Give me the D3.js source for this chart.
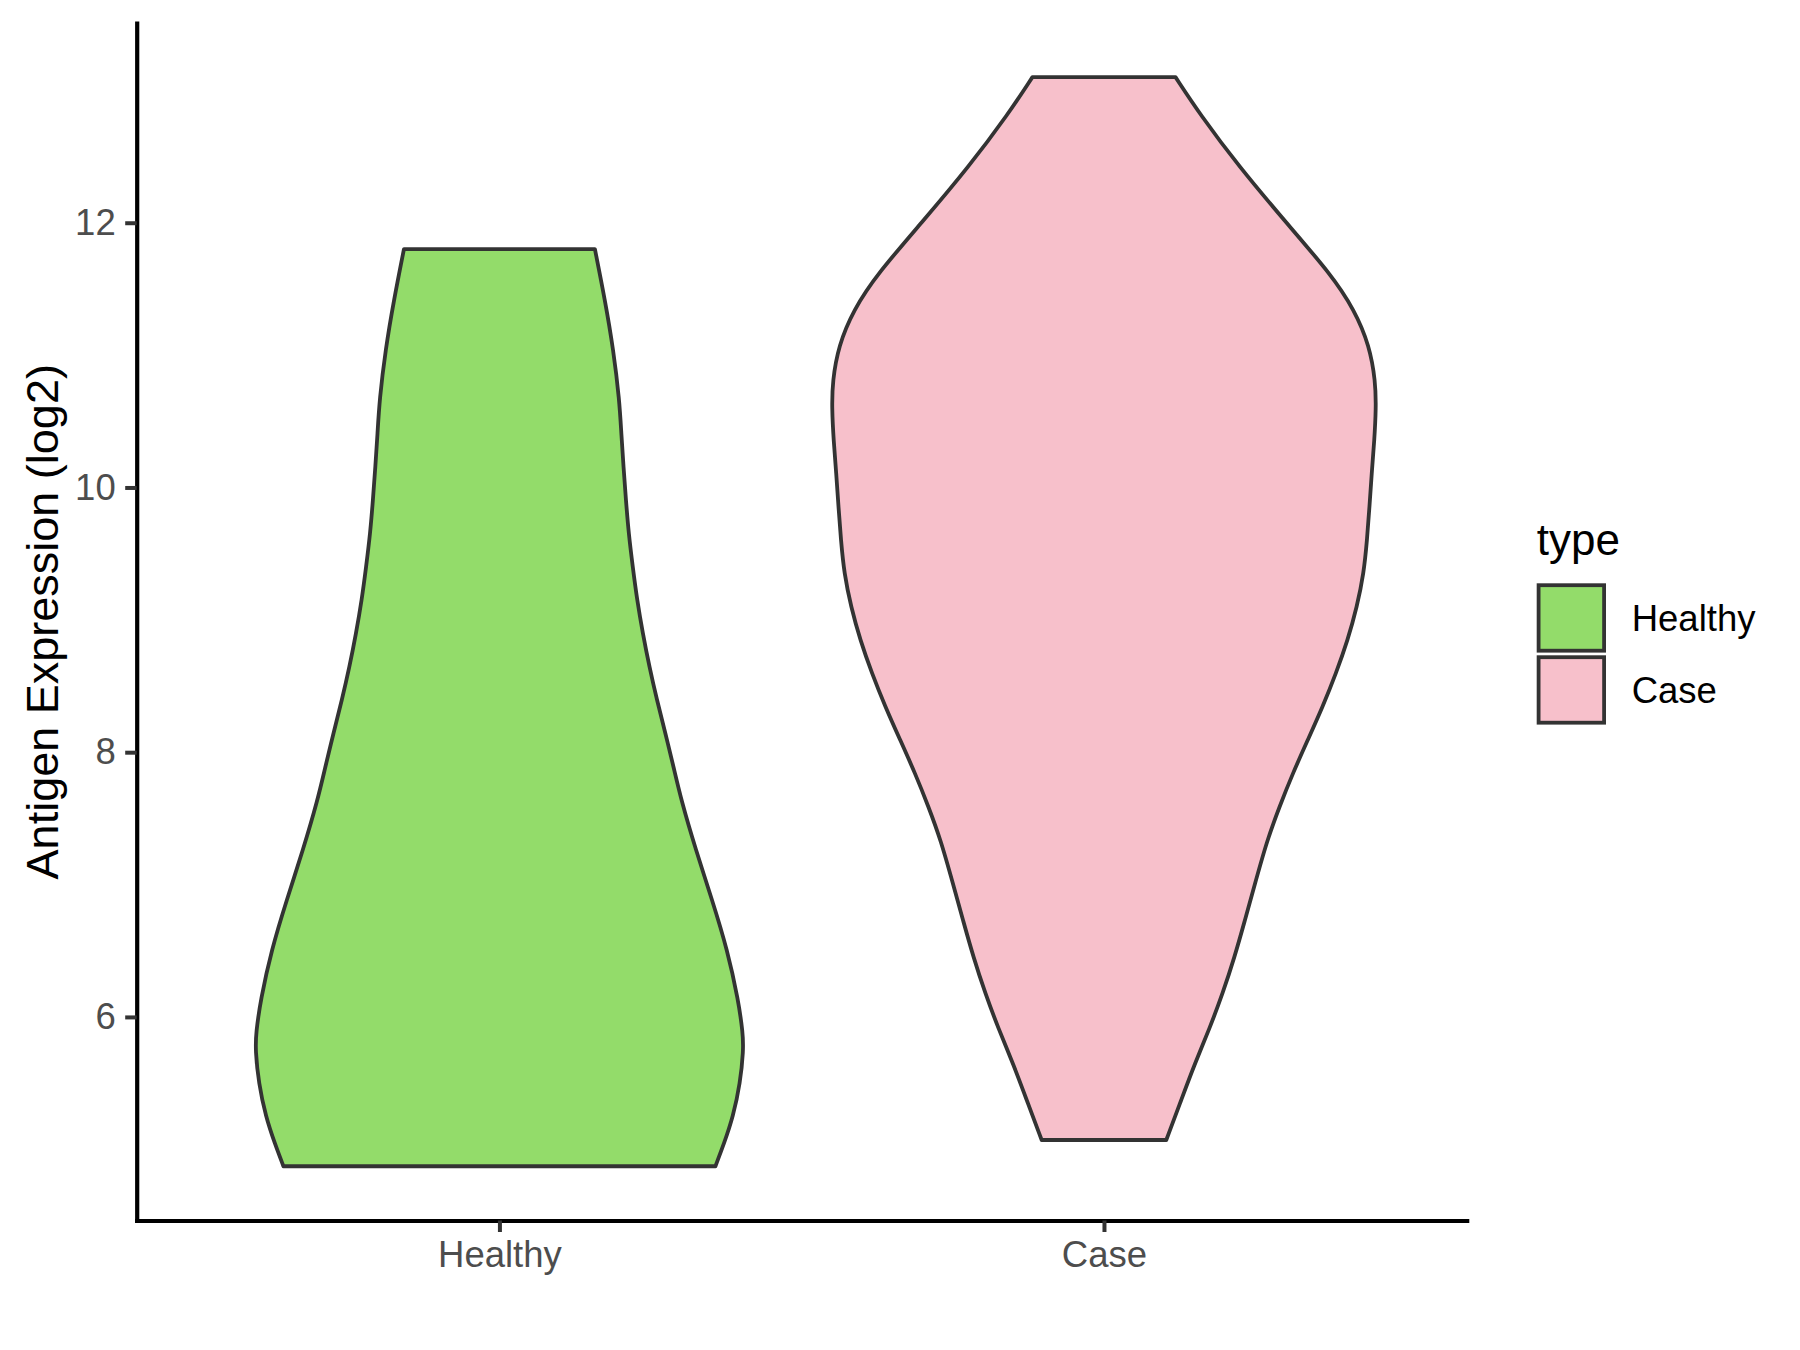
<!DOCTYPE html>
<html>
<head>
<meta charset="utf-8">
<script src="https://cdn.jsdelivr.net/npm/d3@7"></script>
<style>
  html, body { margin: 0; padding: 0; background: #ffffff; }
  svg { display: block; font-family: "Liberation Sans", Arial, sans-serif; }
</style>
</head>
<body>
<svg id="chart" width="1800" height="1350"></svg>
<script>
// ---- data ----
const categories = ["Healthy", "Case"];
const fillColors = ["#93DC6A", "#F7C0CB"];
const yTicks = [6, 8, 10, 12];
const yTitle = "Antigen Expression (log2)";
const legendTitle = "type";

// Healthy violin outline: value (log2) and relative density width (Case max = 1)
const healthyValues = [4.872, 5.045, 5.246, 5.499, 5.750, 5.876, 6.128, 6.506, 6.883, 7.261, 7.639, 7.890, 8.143, 8.394, 8.646, 8.898, 9.150, 9.401, 9.653, 9.905, 10.157, 10.409, 10.660, 11.038, 11.416, 11.80];
const healthyDensity = [0.794, 0.826, 0.859, 0.885, 0.897, 0.895, 0.878, 0.838, 0.782, 0.722, 0.668, 0.640, 0.610, 0.579, 0.551, 0.527, 0.506, 0.490, 0.475, 0.465, 0.456, 0.448, 0.441, 0.419, 0.388, 0.351];

// Case violin outline
const caseValues = [5.070, 5.372, 5.642, 5.912, 6.181, 6.452, 6.722, 6.991, 7.337, 7.588, 7.840, 8.092, 8.344, 8.596, 8.847, 9.099, 9.351, 9.603, 9.855, 10.107, 10.358, 10.60, 10.801, 11.071, 11.340, 11.610, 12.015, 12.420, 12.824, 13.10];
const caseDensity = [0.229, 0.284, 0.333, 0.388, 0.437, 0.480, 0.517, 0.553, 0.600, 0.645, 0.694, 0.749, 0.804, 0.853, 0.896, 0.930, 0.955, 0.967, 0.976, 0.984, 0.994, 1.000, 0.998, 0.976, 0.921, 0.835, 0.664, 0.498, 0.351, 0.263];

const violins = [
  { cat: "Healthy", values: healthyValues, density: healthyDensity, fill: fillColors[0] },
  { cat: "Case", values: caseValues, density: caseDensity, fill: fillColors[1] }
];

// ---- layout ----
const svg = d3.select("#chart");
const mLeft = 136.7, mRight = 1466.7, mTop = 23, mBottom = 1220.5;

const x = d3.scalePoint().domain(categories).range([mLeft, mRight]).padding(0.6);
const y = d3.scaleLinear().domain([4.462, 13.509]).range([mBottom, mTop]);
const unit = x.step();
const w = d3.scaleLinear().domain([0, 1]).range([0, unit * 0.45]);

// violins
const area = d3.area().curve(d3.curveBasis);

violins.forEach(vd => {
  const pts = vd.values.map((v, i) => ({ v: v, d: vd.density[i] }));
  const cx = x(vd.cat);
  area.y(p => y(p.v)).x0(p => cx - w(p.d)).x1(p => cx + w(p.d));
  svg.append("path")
    .attr("d", area(pts))
    .attr("fill", vd.fill)
    .attr("stroke", "#333333")
    .attr("stroke-width", 3.8)
    .attr("stroke-linejoin", "round");
});

// axes
const yAxis = d3.axisLeft(y).tickValues(yTicks).tickSize(11.5).tickSizeOuter(0).tickPadding(9.5).tickFormat(d3.format("d"));
const gy = svg.append("g").attr("transform", `translate(${mLeft},0)`).call(yAxis);
const xAxis = d3.axisBottom(x).tickSize(11.5).tickSizeOuter(0).tickPadding(9);
const gx = svg.append("g").attr("transform", `translate(0,${mBottom})`).call(xAxis);

[gx, gy].forEach(g => {
  g.select(".domain").attr("stroke", "#000000").attr("stroke-width", 4.2).attr("stroke-linecap", "square");
  g.selectAll(".tick line").attr("stroke", "#333333").attr("stroke-width", 4);
  g.selectAll(".tick text").attr("fill", "#4D4D4D").style("font-size", "36.5px")
    .style("font-family", "'Liberation Sans', Arial, sans-serif");
});

// y title
svg.append("text")
  .attr("transform", `translate(57.5,${(mTop + mBottom) / 2}) rotate(-90)`)
  .attr("text-anchor", "middle")
  .attr("fill", "#000000")
  .style("font-size", "45px")
  .text(yTitle);

// legend
const lg = svg.append("g");
lg.append("text")
  .attr("x", 1536.7).attr("y", 555)
  .attr("fill", "#000000")
  .style("font-size", "44px")
  .text(legendTitle);

const keyY = d3.scaleBand().domain(categories).range([583.3, 727.3]);
categories.forEach((c, i) => {
  const ky = keyY(c);
  lg.append("rect")
    .attr("x", 1538.6).attr("y", ky + 1.9)
    .attr("width", 65.5).attr("height", 65.5)
    .attr("fill", fillColors[i])
    .attr("stroke", "#333333").attr("stroke-width", 3.8);
  lg.append("text")
    .attr("x", 1631.7).attr("y", ky + 47.5)
    .attr("fill", "#000000")
    .style("font-size", "36.5px")
    .text(c);
});
</script>
</body>
</html>
